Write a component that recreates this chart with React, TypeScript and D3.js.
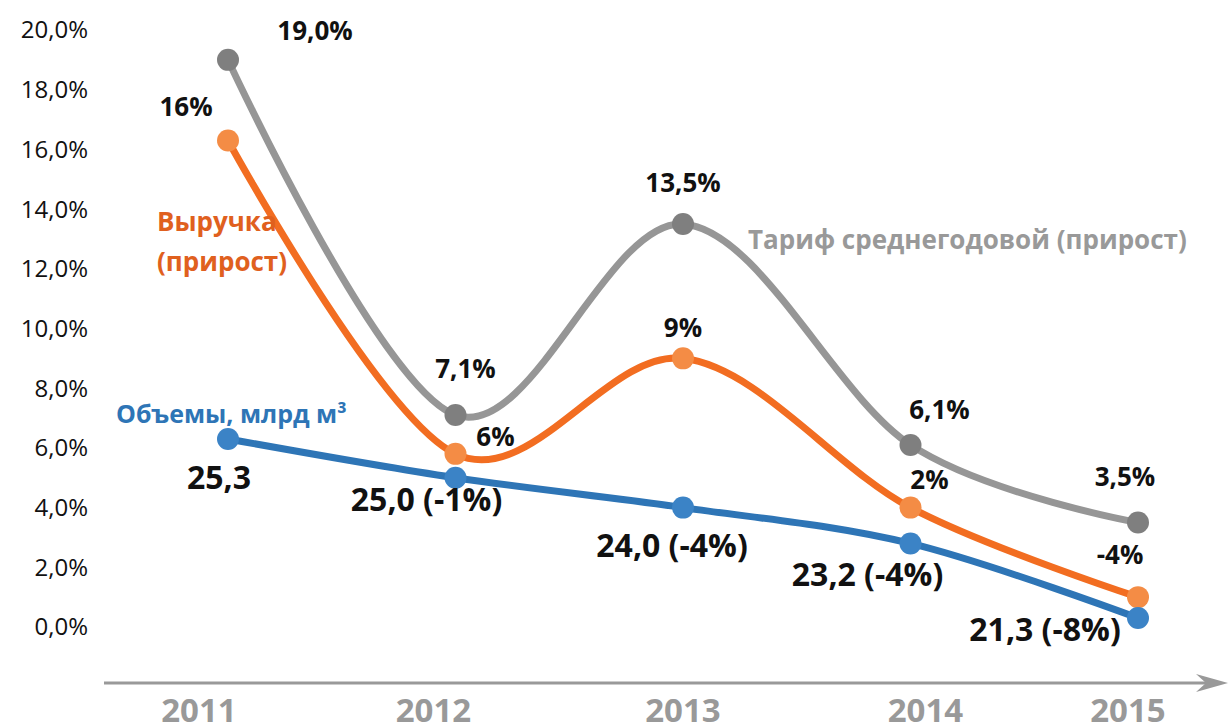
import React from "react";
import * as d3 from "d3";

const years = ["2011", "2012", "2013", "2014", "2015"];
const tariff = [19.0, 7.1, 13.5, 6.1, 3.5];
const revenue = [16.3, 5.8, 9.0, 4.0, 1.0];
const volumePos = [6.3, 5.0, 4.0, 2.8, 0.3];
const tariffLabels = ["19,0%", "7,1%", "13,5%", "6,1%", "3,5%"];
const revenueLabels = ["16%", "6%", "9%", "2%", "-4%"];
const volumeLabels = ["25,3", "25,0 (-1%)", "24,0 (-4%)", "23,2 (-4%)", "21,3 (-8%)"];
const yTicks = [0, 2, 4, 6, 8, 10, 12, 14, 16, 18, 20];

const W = 1230;
const H = 726;
const FONT = "'Open Sans', 'Noto Sans', sans-serif";

const tariffOff = [[87, -29], [10, -46], [0, -41], [29, -35], [-13, -46]];
const revenueOff = [[-42, -34], [40, -17], [0, -30], [19, -28], [-18, -42]];
const volumeOff = [[-9, 39], [-29, 22], [-11, 38], [-43, 31], [-93, 12]];
const yearOff = [-29, -22, 0, 15, -10];

export default function App() {
  const x = d3.scalePoint<string>().domain(years).range([228, 1138]);
  const y = d3.scaleLinear().domain([0, 20]).range([627, 30]);
  const line = d3
    .line<number>()
    .x((_, i) => x(years[i]) as number)
    .y((d) => y(d))
    .curve(d3.curveCardinal.tension(0));

  const series = [
    { vals: tariff, line: "#969696", dot: "#7f7f7f", labels: tariffLabels, off: tariffOff, fs: 26 },
    { vals: revenue, line: "#f26d21", dot: "#f48c45", labels: revenueLabels, off: revenueOff, fs: 26 },
    { vals: volumePos, line: "#2e75b6", dot: "#3b83c6", labels: volumeLabels, off: volumeOff, fs: 32 },
  ];

  return (
    <svg width={W} height={H} style={{ position: "absolute", left: 0, top: 0, background: "#fff" }}>
      {yTicks.map((t) => (
        <text key={t} x={88} y={y(t)} dy="0.35em" textAnchor="end" fontFamily={FONT} fontSize={24} fill="#111">
          {t.toFixed(1).replace(".", ",") + "%"}
        </text>
      ))}
      <line x1={104} x2={1218} y1={683} y2={683} stroke="#999" strokeWidth={3} />
      <path d="M1228,683 L1196,674 L1206,683 L1196,692 Z" fill="#999" />
      {years.map((yr, i) => (
        <text key={yr} x={(x(yr) as number) + yearOff[i]} y={722} textAnchor="middle" fontFamily={FONT} fontWeight="bold" fontSize={33} fill="#999">
          {yr}
        </text>
      ))}
      {series.map((s, si) => (
        <g key={si}>
          <path d={line(s.vals) || ""} fill="none" stroke={s.line} strokeWidth={7} strokeLinecap="round" />
          {s.vals.map((v, i) => (
            <circle key={i} cx={x(years[i])} cy={y(v)} r={11} fill={s.dot} />
          ))}
        </g>
      ))}
      {series.map((s, si) =>
        s.vals.map((v, i) => (
          <text
            key={si + "-" + i}
            x={(x(years[i]) as number) + s.off[i][0]}
            y={y(v) + s.off[i][1]}
            dy="0.35em"
            textAnchor="middle"
            fontFamily={FONT}
            fontWeight="bold"
            fontSize={s.fs}
            fill="#111"
          >
            {s.labels[i]}
          </text>
        ))
      )}
      <text x={157} y={222} dy="0.35em" fontFamily={FONT} fontWeight="bold" fontSize={26} fill="#e0601e">Выручка</text>
      <text x={157} y={262} dy="0.35em" fontFamily={FONT} fontWeight="bold" fontSize={26} fill="#e0601e">(прирост)</text>
      <text x={116} y={414} dy="0.35em" fontFamily={FONT} fontWeight="bold" fontSize={25} fill="#2e75b6">Объемы, млрд м³</text>
      <text x={748} y={240} dy="0.35em" fontFamily={FONT} fontWeight="bold" fontSize={26} fill="#999">Тариф среднегодовой (прирост)</text>
    </svg>
  );
}
